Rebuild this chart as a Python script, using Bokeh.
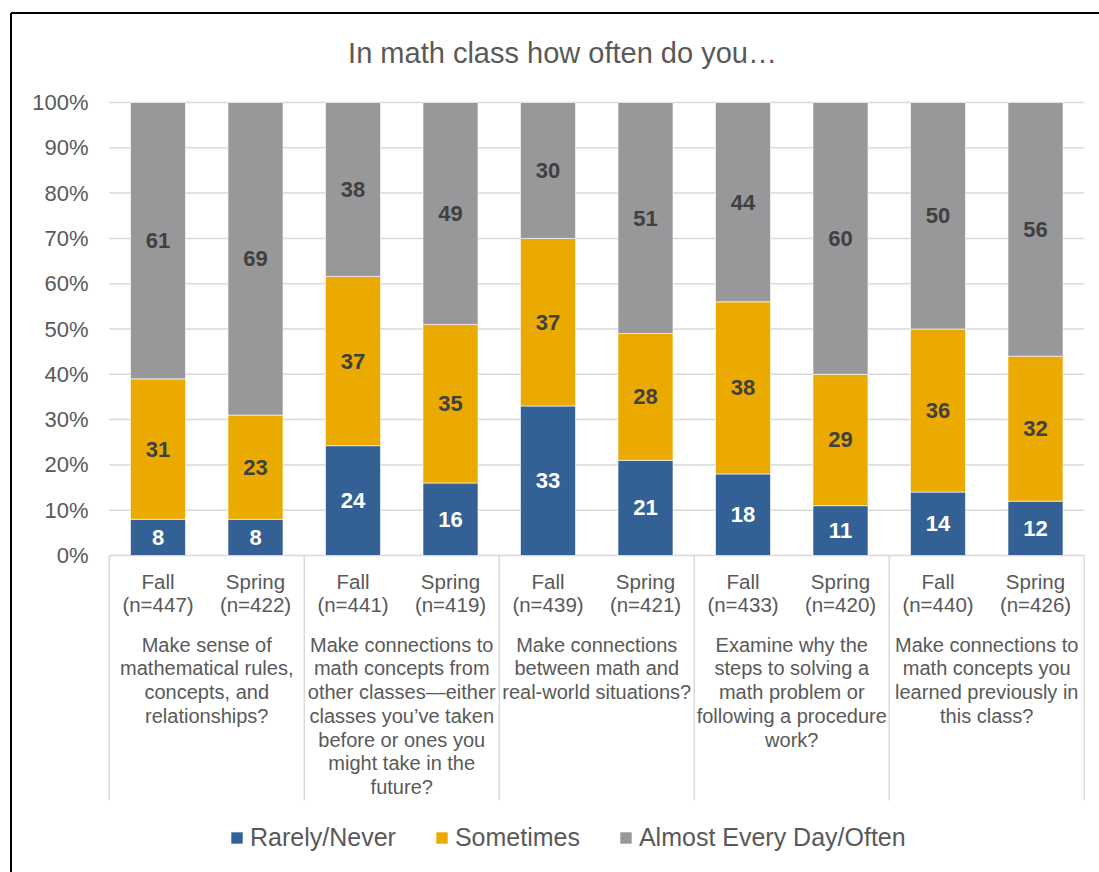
from bokeh.plotting import figure
from bokeh.models import Range1d, ColumnDataSource, Legend, LegendItem
from bokeh.core.properties import value
from bokeh.embed import file_html
from bokeh.resources import INLINE

# ---------------- data ----------------
title_text = "In math class how often do you\u2026"
group_labels = [
    "Make sense of\nmathematical rules,\nconcepts, and\nrelationships?",
    "Make connections to\nmath concepts from\nother classes\u2014either\nclasses you\u2019ve taken\nbefore or ones you\nmight take in the\nfuture?",
    "Make connections\nbetween math and\nreal-world situations?",
    "Examine why the\nsteps to solving a\nmath problem or\nfollowing a procedure\nwork?",
    "Make connections to\nmath concepts you\nlearned previously in\nthis class?",
]
seasons = ["Fall", "Spring", "Fall", "Spring", "Fall", "Spring", "Fall", "Spring", "Fall", "Spring"]
n_values = [447, 422, 441, 419, 439, 421, 433, 420, 440, 426]
rarely = [8, 8, 24, 16, 33, 21, 18, 11, 14, 12]
sometimes = [31, 23, 37, 35, 37, 28, 38, 29, 36, 32]
often = [61, 69, 38, 49, 30, 51, 44, 60, 50, 56]
series_names = ["Rarely/Never", "Sometimes", "Almost Every Day/Often"]
series_colors = ["#336195", "#EBAA00", "#98989A"]
label_colors = ["#FFFFFF", "#404040", "#404040"]
y_ticks = [0, 10, 20, 30, 40, 50, 60, 70, 80, 90, 100]

# ---------------- layout constants (screen px) ----------------
W, H = 1099, 872
FRAME_L, FRAME_T = 9, 11
CAT0_PX, CAT_STEP = 157.5, 97.5      # centre of first category, category width
ZERO_PX, FULL_PX = 555, 453          # pixel of 0 %, pixels for 100 %
FONT = "Liberation Sans"
GREY_TXT = "#595959"
LINE_GREY = "#D9D9D9"

def xd(px):
    return (px - CAT0_PX) / CAT_STEP

def yd(px):
    return (ZERO_PX - px) / FULL_PX

n_cat = len(seasons)
xs = list(range(n_cat))
totals = [a + b + c for a, b, c in zip(rarely, sometimes, often)]
shares = {
    series_names[0]: [a / t for a, t in zip(rarely, totals)],
    series_names[1]: [b / t for b, t in zip(sometimes, totals)],
    series_names[2]: [c / t for c, t in zip(often, totals)],
}

p = figure(
    width=W, height=H,
    x_range=Range1d(xd(FRAME_L), xd(W)),
    y_range=Range1d(yd(H), yd(FRAME_T)),
    x_axis_type=None, y_axis_type=None,
    toolbar_location=None, output_backend="svg",
    min_border_left=FRAME_L, min_border_top=FRAME_T,
    min_border_right=0, min_border_bottom=0,
)
p.outline_line_color = None
p.background_fill_color = "white"
p.border_fill_color = "white"

# chart-area border (left and top edges visible in the crop)
p.segment(x0=[xd(10.5), xd(10.5)], y0=[yd(H + 5), yd(12.5)],
          x1=[xd(10.5), xd(W + 5)], y1=[yd(12.5), yd(12.5)],
          line_color="black", line_width=2)

# gridlines (0..100 %), spanning the category area only
edge_lo, edge_hi = -0.5, n_cat - 0.5
tick_frac = [t / 100 for t in y_ticks]
p.segment(x0=[edge_lo] * len(tick_frac), x1=[edge_hi] * len(tick_frac),
          y0=tick_frac, y1=tick_frac, line_color=LINE_GREY, line_width=1.5)

# group separators
n_groups = len(group_labels)
sep_x = [edge_lo + 2 * g for g in range(n_groups + 1)]
p.segment(x0=sep_x, x1=sep_x, y0=[0] * len(sep_x), y1=[yd(800)] * len(sep_x),
          line_color=LINE_GREY, line_width=1.5)

# stacked bars
src = ColumnDataSource(dict(x=xs, **shares))
renderers = p.vbar_stack(series_names, x="x", width=0.564, source=src,
                         color=series_colors, line_color="white", line_width=0.6)

# data labels
lx, ly, lt, lc = [], [], [], []
raw = [rarely, sometimes, often]
for i in xs:
    base = 0.0
    for s, name in enumerate(series_names):
        h = shares[name][i]
        lx.append(i)
        ly.append(base + h / 2)
        lt.append(str(raw[s][i]))
        lc.append(label_colors[s])
        base += h
p.text(x=lx, y=ly, text=lt, text_color=lc, text_align="center", text_baseline="middle",
       text_font=value(FONT), text_font_size="22px", text_font_style="bold")

# y tick labels
p.text(x=[xd(88)] * len(y_ticks), y=tick_frac, text=[f"{t}%" for t in y_ticks],
       text_align="right", text_baseline="middle", text_color=GREY_TXT,
       text_font=value(FONT), text_font_size="22px")

# category (season) labels
p.text(x=xs, y=[yd(569)] * n_cat,
       text=[f"{s}\n(n={n})" for s, n in zip(seasons, n_values)],
       text_align="center", text_baseline="top", text_color=GREY_TXT,
       text_font=value(FONT), text_font_size="20.5px", text_line_height=1.0)

# group labels
p.text(x=[2 * g + 0.5 for g in range(n_groups)], y=[yd(633)] * n_groups,
       text=group_labels, text_align="center", text_baseline="top", text_color=GREY_TXT,
       text_font=value(FONT), text_font_size="20px", text_line_height=1.08)

# title
p.text(x=[xd(562)], y=[yd(52)], text=[title_text], text_align="center",
       text_baseline="middle", text_color=GREY_TXT,
       text_font=value(FONT), text_font_size="29px")

# legend
legend = Legend(
    items=[LegendItem(label=n, renderers=[r]) for n, r in zip(series_names, renderers)],
    orientation="horizontal", location=(220, 20),
    label_text_font=FONT, label_text_font_size="25px", label_text_color=GREY_TXT,
    glyph_width=15, glyph_height=15, label_standoff=6, spacing=38,
    padding=0, margin=0, border_line_color=None, background_fill_alpha=0,
)
p.add_layout(legend)

open("out.html", "w").write(file_html(p, INLINE))
